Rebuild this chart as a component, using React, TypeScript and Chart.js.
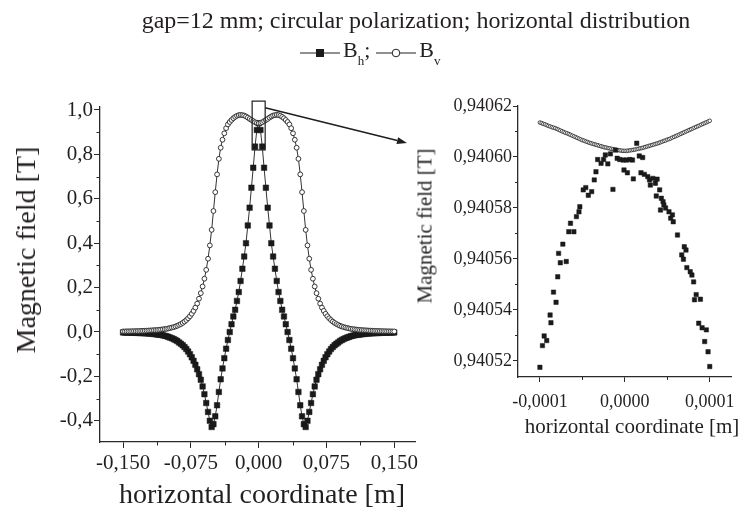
import React, { useEffect, useRef } from "react";
import { Chart, registerables } from "chart.js";

Chart.register(...registerables);

const FONT = '"Liberation Serif", "Times New Roman", serif';
const TEXT = "#231f20";
const AXIS = "#2a2a2a";

// ---------- Left panel: full horizontal distribution ----------
const xPos = [
  -0.150, -0.148, -0.146, -0.144, -0.142, -0.140, -0.138, -0.136, -0.134, -0.132,
  -0.130, -0.128, -0.126, -0.124, -0.122, -0.120, -0.118, -0.116, -0.114, -0.112,
  -0.110, -0.108, -0.106, -0.104, -0.102, -0.100, -0.098, -0.096, -0.094, -0.092,
  -0.090, -0.088, -0.086, -0.084, -0.082, -0.080, -0.078, -0.076, -0.074, -0.072,
  -0.070, -0.068, -0.066, -0.064, -0.062, -0.060, -0.058, -0.056, -0.054, -0.052,
  -0.050, -0.048, -0.046, -0.044, -0.042, -0.040, -0.038, -0.036, -0.034, -0.032,
  -0.030, -0.028, -0.026, -0.024, -0.022, -0.020, -0.018, -0.016, -0.014, -0.012,
  -0.010, -0.008, -0.006, -0.004, -0.002,
  0.000,
  0.002, 0.004, 0.006, 0.008, 0.010,
  0.012, 0.014, 0.016, 0.018, 0.020, 0.022, 0.024, 0.026, 0.028, 0.030,
  0.032, 0.034, 0.036, 0.038, 0.040, 0.042, 0.044, 0.046, 0.048, 0.050,
  0.052, 0.054, 0.056, 0.058, 0.060, 0.062, 0.064, 0.066, 0.068, 0.070,
  0.072, 0.074, 0.076, 0.078, 0.080, 0.082, 0.084, 0.086, 0.088, 0.090,
  0.092, 0.094, 0.096, 0.098, 0.100, 0.102, 0.104, 0.106, 0.108, 0.110,
  0.112, 0.114, 0.116, 0.118, 0.120, 0.122, 0.124, 0.126, 0.128, 0.130,
  0.132, 0.134, 0.136, 0.138, 0.140, 0.142, 0.144, 0.146, 0.148, 0.150,
];

const bhField = [
  -0.002, -0.002, -0.0025, -0.0025, -0.003, -0.003, -0.003, -0.0035, -0.004, -0.004,
  -0.0045, -0.005, -0.0055, -0.006, -0.0065, -0.007, -0.008, -0.009, -0.010, -0.011,
  -0.012, -0.013, -0.015, -0.017, -0.019, -0.022, -0.025, -0.028, -0.032, -0.036,
  -0.041, -0.047, -0.053, -0.060, -0.068, -0.077, -0.088, -0.100, -0.114, -0.130,
  -0.148, -0.168, -0.190, -0.215, -0.245, -0.280, -0.320, -0.360, -0.400, -0.428,
  -0.415, -0.380, -0.330, -0.270, -0.213, -0.164, -0.118, -0.075, -0.036, 0.000,
  0.035, 0.070, 0.100, 0.140, 0.180, 0.230, 0.285, 0.340, 0.400, 0.480,
  0.560, 0.650, 0.740, 0.835, 0.910,
  0.9406,
  0.910, 0.835, 0.740, 0.650, 0.560,
  0.480, 0.400, 0.340, 0.285, 0.230, 0.180, 0.140, 0.100, 0.070, 0.035,
  0.000, -0.036, -0.075, -0.118, -0.164, -0.213, -0.270, -0.330, -0.380, -0.415,
  -0.428, -0.400, -0.360, -0.320, -0.280, -0.245, -0.215, -0.190, -0.168, -0.148,
  -0.130, -0.114, -0.100, -0.088, -0.077, -0.068, -0.060, -0.053, -0.047, -0.041,
  -0.036, -0.032, -0.028, -0.025, -0.022, -0.019, -0.017, -0.015, -0.013, -0.012,
  -0.011, -0.010, -0.009, -0.008, -0.007, -0.0065, -0.006, -0.0055, -0.005, -0.0045,
  -0.004, -0.004, -0.0035, -0.003, -0.003, -0.003, -0.0025, -0.0025, -0.002, -0.002,
];

const bvField = [
  0.0025, 0.0025, 0.003, 0.003, 0.003, 0.0035, 0.0035, 0.004, 0.004, 0.0045,
  0.005, 0.005, 0.0055, 0.006, 0.0065, 0.007, 0.0075, 0.008, 0.0085, 0.009,
  0.010, 0.011, 0.012, 0.013, 0.014, 0.016, 0.018, 0.020, 0.022, 0.025,
  0.028, 0.032, 0.036, 0.041, 0.047, 0.054, 0.062, 0.071, 0.082, 0.095,
  0.110, 0.128, 0.150, 0.175, 0.205, 0.240, 0.280, 0.330, 0.390, 0.460,
  0.545, 0.630, 0.710, 0.780, 0.830, 0.866, 0.895, 0.918, 0.935, 0.946,
  0.955, 0.963, 0.969, 0.974, 0.977, 0.978, 0.977, 0.975, 0.971, 0.966,
  0.960, 0.955, 0.950, 0.945, 0.942,
  0.9406,
  0.942, 0.945, 0.950, 0.955, 0.960,
  0.966, 0.971, 0.975, 0.977, 0.978, 0.977, 0.974, 0.969, 0.963, 0.955,
  0.946, 0.935, 0.918, 0.895, 0.866, 0.830, 0.780, 0.710, 0.630, 0.545,
  0.460, 0.390, 0.330, 0.280, 0.240, 0.205, 0.175, 0.150, 0.128, 0.110,
  0.095, 0.082, 0.071, 0.062, 0.054, 0.047, 0.041, 0.036, 0.032, 0.028,
  0.025, 0.022, 0.020, 0.018, 0.016, 0.014, 0.013, 0.012, 0.011, 0.010,
  0.009, 0.0085, 0.008, 0.0075, 0.007, 0.0065, 0.006, 0.0055, 0.005, 0.005,
  0.0045, 0.004, 0.004, 0.0035, 0.0035, 0.003, 0.003, 0.003, 0.0025, 0.0025,
];

const leftXTicks = [-0.15, -0.075, 0, 0.075, 0.15];
const leftXMinor = [-0.1125, -0.0375, 0.0375, 0.1125];
const leftYTicks = [-0.4, -0.2, 0, 0.2, 0.4, 0.6, 0.8, 1.0];
const leftYMinor = [-0.3, -0.1, 0.1, 0.3, 0.5, 0.7, 0.9];

// zoomed region marker (data coordinates of the small box)
const zoomBoxX = [-0.0072, 0.0072];
const zoomBoxY = [0.82, 1.04];
const arrowStartY = 1.01;

// ---------- Right panel: zoom around x = 0 ----------
const zoomBhX = [
  -100e-6, -97e-6, -95e-6, -92e-6, -88e-6, -87e-6, -84e-6, -81e-6, -79e-6, -78e-6,
  -76e-6, -73e-6, -69e-6, -66e-6, -64e-6, -60e-6, -57e-6, -54e-6, -53e-6, -49e-6,
  -46e-6, -43e-6, -39e-6, -36e-6, -34e-6, -32e-6, -28e-6, -25e-6, -23e-6, -20e-6,
  -17e-6, -14e-6, -11e-6, -9e-6, -6e-6, -2e-6, -1e-6, 2e-6, 3e-6, 6e-6,
  9e-6, 10e-6, 14e-6, 17e-6, 19e-6, 21e-6, 23e-6, 27e-6, 29e-6, 30e-6,
  33e-6, 36e-6, 37e-6, 38e-6, 41e-6, 42e-6, 43e-6, 45e-6, 46e-6, 48e-6,
  52e-6, 54e-6, 56e-6, 57e-6, 62e-6, 67e-6, 69e-6, 70e-6, 72e-6, 73e-6,
  77e-6, 79e-6, 81e-6, 82e-6, 84e-6, 87e-6, 89e-6, 91e-6, 94e-6, 96e-6,
  98e-6, 100e-6,
];
const zoomBhY = [
  0.9405175, 0.9405260, 0.9405298, 0.9405280, 0.9405380, 0.9405350, 0.9405470, 0.9405430, 0.9405530, 0.9405622,
  0.9405585, 0.9405658, 0.9405590, 0.9405707, 0.9405740, 0.9405707, 0.9405766, 0.9405785, 0.9405805, 0.9405871,
  0.9405880, 0.9405850, 0.9405864, 0.9405910, 0.9405942, 0.9405990, 0.9405975, 0.9405990, 0.9406008, 0.9405973,
  0.9406012, 0.9405873, 0.9406027, 0.9405995, 0.9405990, 0.9405988, 0.9405949, 0.9405988, 0.9405938, 0.9405990,
  0.9405988, 0.9405914, 0.9406054, 0.9406004, 0.9405938, 0.9405998, 0.9405932, 0.9405923, 0.9405910, 0.9405890,
  0.9405916, 0.9405897, 0.9405847, 0.9405913, 0.9405871, 0.9405792, 0.9405838, 0.9405825, 0.9405812, 0.9405800,
  0.9405785, 0.9405760, 0.9405773, 0.9405746, 0.9405694, 0.9405616, 0.9405599, 0.9405648, 0.9405635, 0.9405566,
  0.9405550, 0.9405537, 0.9405510, 0.9405440, 0.9405460, 0.9405348, 0.9405442, 0.9405330, 0.9405276, 0.9405322,
  0.9405236, 0.9405178,
];

const zoomBvX = [
  -100e-6, -98e-6, -96e-6, -94e-6, -92e-6, -90e-6, -88e-6, -86e-6, -84e-6, -82e-6,
  -80e-6, -78e-6, -76e-6, -74e-6, -72e-6, -70e-6, -68e-6, -66e-6, -64e-6, -62e-6,
  -60e-6, -58e-6, -56e-6, -54e-6, -52e-6, -50e-6, -48e-6, -46e-6, -44e-6, -42e-6,
  -40e-6, -38e-6, -36e-6, -34e-6, -32e-6, -30e-6, -28e-6, -26e-6, -24e-6, -22e-6,
  -20e-6, -18e-6, -16e-6, -14e-6, -12e-6, -10e-6, -8e-6, -6e-6, -4e-6, -2e-6,
  0,
  2e-6, 4e-6, 6e-6, 8e-6, 10e-6, 12e-6, 14e-6, 16e-6, 18e-6, 20e-6,
  22e-6, 24e-6, 26e-6, 28e-6, 30e-6, 32e-6, 34e-6, 36e-6, 38e-6, 40e-6,
  42e-6, 44e-6, 46e-6, 48e-6, 50e-6, 52e-6, 54e-6, 56e-6, 58e-6, 60e-6,
  62e-6, 64e-6, 66e-6, 68e-6, 70e-6, 72e-6, 74e-6, 76e-6, 78e-6, 80e-6,
  82e-6, 84e-6, 86e-6, 88e-6, 90e-6, 92e-6, 94e-6, 96e-6, 98e-6, 100e-6,
];
const zoomBvY = [
  0.9406135, 0.9406133, 0.9406130, 0.9406128, 0.9406125, 0.9406122, 0.9406120, 0.9406117, 0.9406115, 0.9406113,
  0.9406110, 0.9406107, 0.9406104, 0.9406101, 0.9406098, 0.9406095, 0.9406093, 0.9406090, 0.9406087, 0.9406084,
  0.9406081, 0.9406078, 0.9406075, 0.9406072, 0.9406069, 0.9406066, 0.9406064, 0.9406061, 0.9406059, 0.9406056,
  0.9406054, 0.9406052, 0.9406050, 0.9406048, 0.9406046, 0.9406044, 0.9406042, 0.9406040, 0.9406038, 0.9406037,
  0.9406035, 0.9406034, 0.9406032, 0.9406031, 0.9406029, 0.9406028, 0.9406027, 0.9406026, 0.9406025, 0.9406024,
  0.9406024,
  0.9406024, 0.9406025, 0.9406026, 0.9406027, 0.9406028, 0.9406029, 0.9406031, 0.9406032, 0.9406034, 0.9406035,
  0.9406037, 0.9406039, 0.9406041, 0.9406043, 0.9406045, 0.9406047, 0.9406049, 0.9406051, 0.9406053, 0.9406055,
  0.9406058, 0.9406060, 0.9406063, 0.9406065, 0.9406068, 0.9406070, 0.9406073, 0.9406076, 0.9406079, 0.9406082,
  0.9406085, 0.9406088, 0.9406091, 0.9406094, 0.9406097, 0.9406100, 0.9406103, 0.9406106, 0.9406109, 0.9406112,
  0.9406115, 0.9406118, 0.9406121, 0.9406124, 0.9406127, 0.9406130, 0.9406133, 0.9406136, 0.9406139, 0.9406142,
];

const rightXTicks = [-0.0001, 0, 0.0001];
const rightXMinor = [-0.00005, 0.00005];
const rightYTicks = [0.94052, 0.94054, 0.94056, 0.94058, 0.9406, 0.94062];
const rightYMinor = [0.94053, 0.94055, 0.94057, 0.94059, 0.94061];

// arrow tip (annotation pointing at the zoomed panel), page pixels
const ARROW_TIP = { x: 407, y: 143 };

const minorTicksPlugin = {
  id: "minorTicks",
  afterDraw(chart: any, _args: any, opts: any) {
    const { ctx, chartArea, scales } = chart;
    const xs = scales.x;
    const ys = scales.y;
    ctx.save();
    ctx.strokeStyle = AXIS;
    ctx.lineWidth = 1;
    ctx.beginPath();
    for (const v of opts.x || []) {
      const px = Math.round(xs.getPixelForValue(v)) + 0.5;
      ctx.moveTo(px, chartArea.bottom);
      ctx.lineTo(px, chartArea.bottom + opts.len);
    }
    for (const v of opts.y || []) {
      const py = Math.round(ys.getPixelForValue(v)) + 0.5;
      ctx.moveTo(chartArea.left, py);
      ctx.lineTo(chartArea.left - opts.len, py);
    }
    ctx.stroke();
    ctx.restore();
  },
};

const zoomMarkPlugin = {
  id: "zoomMark",
  afterDatasetsDraw(chart: any) {
    const { ctx, scales } = chart;
    const xs = scales.x;
    const ys = scales.y;
    const x0 = xs.getPixelForValue(zoomBoxX[0]);
    const x1 = xs.getPixelForValue(zoomBoxX[1]);
    const y0 = ys.getPixelForValue(zoomBoxY[1]);
    const y1 = ys.getPixelForValue(zoomBoxY[0]);
    ctx.save();
    ctx.strokeStyle = "#1e1e1e";
    ctx.lineWidth = 1.2;
    ctx.strokeRect(x0, y0, x1 - x0, y1 - y0);
    const sx = x1;
    const sy = ys.getPixelForValue(arrowStartY);
    const tx = ARROW_TIP.x;
    const ty = ARROW_TIP.y;
    const ang = Math.atan2(ty - sy, tx - sx);
    const hl = 10;
    const hw = 3.5;
    const bx = tx - hl * Math.cos(ang);
    const by = ty - hl * Math.sin(ang);
    ctx.lineWidth = 1.5;
    ctx.beginPath();
    ctx.moveTo(sx, sy);
    ctx.lineTo(bx, by);
    ctx.stroke();
    ctx.fillStyle = "#1e1e1e";
    ctx.beginPath();
    ctx.moveTo(tx, ty);
    ctx.lineTo(bx + hw * Math.sin(ang), by - hw * Math.cos(ang));
    ctx.lineTo(bx - hw * Math.sin(ang), by + hw * Math.cos(ang));
    ctx.closePath();
    ctx.fill();
    ctx.restore();
  },
};

function axisCommon(tickLen: number) {
  return {
    grid: {
      display: true,
      drawOnChartArea: false,
      drawTicks: true,
      tickLength: tickLen,
      tickColor: AXIS,
      tickWidth: 1,
    },
    border: { display: true, color: AXIS, width: 1.3 },
  };
}

function makeLeftConfig(): any {
  const bhPts = xPos.map((x, i) => ({ x, y: bhField[i] }));
  const bvPts = xPos.map((x, i) => ({ x, y: bvField[i] }));
  return {
    type: "line",
    data: {
      datasets: [
        {
          label: "Bv",
          data: bvPts,
          order: 0,
          borderColor: "#333",
          borderWidth: 1,
          pointStyle: "circle",
          pointRadius: 2.4,
          pointBackgroundColor: "#ffffff",
          pointBorderColor: "#222",
          pointBorderWidth: 0.9,
        },
        {
          label: "Bh",
          data: bhPts,
          order: 1,
          borderColor: "#333",
          borderWidth: 1,
          pointStyle: "rect",
          pointRadius: 3.9,
          pointBackgroundColor: "#1a1a1a",
          pointBorderColor: "#1a1a1a",
          pointBorderWidth: 0.5,
        },
      ],
    },
    options: {
      responsive: false,
      animation: false,
      devicePixelRatio: 1,
      events: [],
      layout: { padding: { left: 0, top: 107, right: 328.5, bottom: 0 } },
      plugins: {
        legend: { display: false },
        tooltip: { enabled: false },
        minorTicks: { x: leftXMinor, y: leftYMinor, len: 3.5 },
      },
      scales: {
        x: {
          type: "linear",
          min: -0.1755,
          max: 0.1735,
          afterBuildTicks: (s: any) => {
            s.ticks = leftXTicks.map((v) => ({ value: v }));
          },
          afterFit: (s: any) => {
            s.height = 75;
          },
          ticks: {
            autoSkip: false,
            maxRotation: 0,
            padding: 3,
            color: TEXT,
            font: { family: FONT, size: 21 },
            callback: (v: any) => Number(v).toFixed(3).replace(".", ","),
          },
          ...axisCommon(6),
        },
        y: {
          type: "linear",
          min: -0.4955,
          max: 1.0135,
          afterBuildTicks: (s: any) => {
            s.ticks = leftYTicks.map((v) => ({ value: v }));
          },
          afterFit: (s: any) => {
            s.width = 100;
          },
          ticks: {
            autoSkip: false,
            padding: 1,
            color: TEXT,
            font: { family: FONT, size: 21 },
            callback: (v: any) => Number(v).toFixed(1).replace(".", ","),
          },
          ...axisCommon(6),
        },
      },
    },
    plugins: [minorTicksPlugin, zoomMarkPlugin],
  };
}

function makeRightConfig(): any {
  const bhPts = zoomBhX.map((x, i) => ({ x, y: zoomBhY[i] }));
  const bvPts = zoomBvX.map((x, i) => ({ x, y: zoomBvY[i] }));
  return {
    type: "scatter",
    data: {
      datasets: [
        {
          label: "Bh",
          data: bhPts,
          order: 0,
          showLine: false,
          pointStyle: "rect",
          pointRadius: 3.1,
          pointBackgroundColor: "#1a1a1a",
          pointBorderColor: "#1a1a1a",
          pointBorderWidth: 0.5,
        },
        {
          label: "Bv",
          data: bvPts,
          order: 1,
          showLine: false,
          pointStyle: "circle",
          pointRadius: 1.8,
          pointBackgroundColor: "#ffffff",
          pointBorderColor: "#222",
          pointBorderWidth: 0.8,
        },
      ],
    },
    options: {
      responsive: false,
      animation: false,
      devicePixelRatio: 1,
      events: [],
      layout: { padding: { left: 380, top: 106, right: 2, bottom: 0 } },
      plugins: {
        legend: { display: false },
        tooltip: { enabled: false },
        minorTicks: { x: rightXMinor, y: rightYMinor, len: 3 },
      },
      scales: {
        x: {
          type: "linear",
          min: -0.0001258,
          max: 0.0001258,
          afterBuildTicks: (s: any) => {
            s.ticks = rightXTicks.map((v) => ({ value: v }));
          },
          afterFit: (s: any) => {
            s.height = 140;
          },
          ticks: {
            autoSkip: false,
            maxRotation: 0,
            padding: 9,
            color: TEXT,
            font: { family: FONT, size: 18 },
            callback: (v: any) => Number(v).toFixed(4).replace(".", ","),
          },
          ...axisCommon(5),
        },
        y: {
          type: "linear",
          min: 0.9405137,
          max: 0.94062,
          afterBuildTicks: (s: any) => {
            s.ticks = rightYTicks.map((v) => ({ value: v }));
          },
          afterFit: (s: any) => {
            s.width = 138;
          },
          ticks: {
            autoSkip: false,
            padding: 1,
            color: TEXT,
            font: { family: FONT, size: 18 },
            callback: (v: any) => Number(v).toFixed(5).replace(".", ","),
          },
          ...axisCommon(5),
        },
      },
    },
    plugins: [minorTicksPlugin],
  };
}

const abs = (extra: React.CSSProperties): React.CSSProperties => ({
  position: "absolute",
  whiteSpace: "nowrap",
  lineHeight: 1,
  ...extra,
});

function LegendMark({ kind }: { kind: "square" | "circle" }) {
  return (
    <svg width={40} height={14} style={{ display: "inline-block", verticalAlign: "middle" }}>
      <line x1={0} y1={7} x2={40} y2={7} stroke="#222" strokeWidth={1.2} />
      {kind === "square" ? (
        <rect x={16} y={3} width={8} height={8} fill="#1a1a1a" />
      ) : (
        <circle cx={20} cy={7} r={3.8} fill="#fff" stroke="#222" strokeWidth={1} />
      )}
    </svg>
  );
}

export default function App() {
  const leftRef = useRef<HTMLCanvasElement>(null);
  const rightRef = useRef<HTMLCanvasElement>(null);

  useEffect(() => {
    const c1 = new Chart(leftRef.current as HTMLCanvasElement, makeLeftConfig());
    const c2 = new Chart(rightRef.current as HTMLCanvasElement, makeRightConfig());
    return () => {
      c1.destroy();
      c2.destroy();
    };
  }, []);

  return (
    <div
      style={{
        position: "fixed",
        left: 0,
        top: 0,
        width: 744,
        height: 517,
        background: "#fff",
        overflow: "hidden",
        fontFamily: FONT,
        color: TEXT,
      }}
    >
      <canvas ref={leftRef} width={744} height={517} style={{ position: "absolute", left: 0, top: 0 }} />
      <canvas ref={rightRef} width={744} height={517} style={{ position: "absolute", left: 0, top: 0 }} />

      <div style={abs({ left: 416, top: 8, fontSize: 24, transform: "translateX(-50%)" })}>
        gap=12 mm; circular polarization; horizontal distribution
      </div>

      <div style={abs({ left: 300, top: 39, fontSize: 22, display: "flex", alignItems: "center" })}>
        <LegendMark kind="square" />
        <span style={{ marginLeft: 3 }}>
          B<sub style={{ fontSize: 13, verticalAlign: -8 }}>h</sub>;
        </span>
        <span style={{ width: 6 }} />
        <LegendMark kind="circle" />
        <span style={{ marginLeft: 3 }}>
          B<sub style={{ fontSize: 13, verticalAlign: -8 }}>v</sub>
        </span>
      </div>

      <div
        style={abs({
          left: 26,
          top: 250,
          fontSize: 28,
          transform: "translate(-50%, -50%) rotate(-90deg)",
        })}
      >
        Magnetic field [T]
      </div>
      <div style={abs({ left: 262, top: 494, fontSize: 28, transform: "translate(-50%, -50%)" })}>
        horizontal coordinate [m]
      </div>

      <div
        style={abs({
          left: 425,
          top: 226,
          fontSize: 21,
          transform: "translate(-50%, -50%) rotate(-90deg)",
        })}
      >
        Magnetic field [T]
      </div>
      <div style={abs({ left: 632, top: 426, fontSize: 21, transform: "translate(-50%, -50%)" })}>
        horizontal coordinate [m]
      </div>
    </div>
  );
}
